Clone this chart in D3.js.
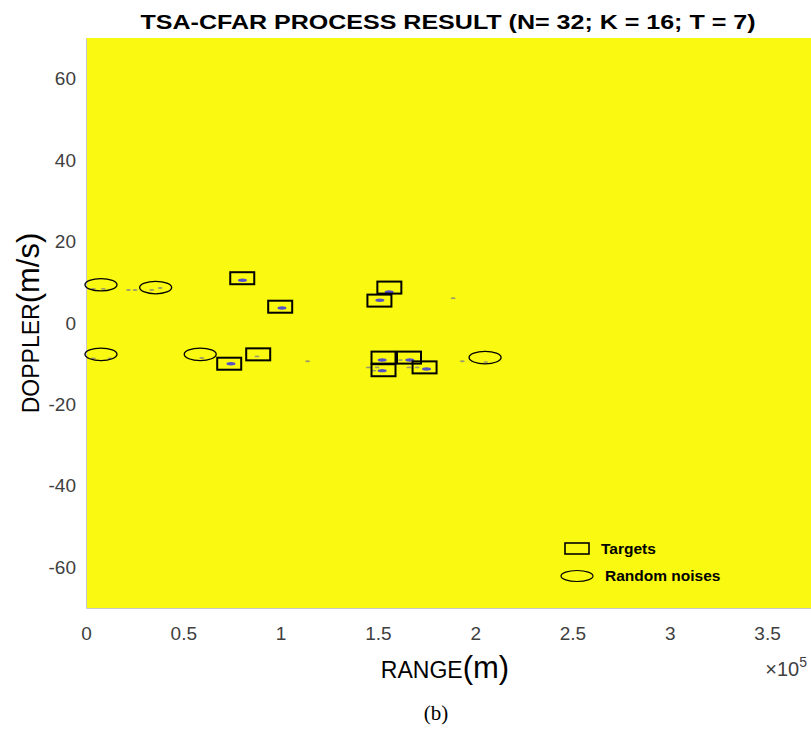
<!DOCTYPE html>
<html>
<head>
<meta charset="utf-8">
<script src="https://cdn.jsdelivr.net/npm/d3@7"></script>
<style>
  body { margin: 0; background: #fff; }
  svg { display: block; }
</style>
</head>
<body>
<div id="chart"></div>
<script>
// 数据（从图上读取，距离单位 m，多普勒单位 m/s）
const xTicks = [0, 50000, 100000, 150000, 200000, 250000, 300000, 350000];
const yTicks = [-60, -40, -20, 0, 20, 40, 60];

// 目标框中心
const targetRange   = [80300, 99800, 73600, 88500, 155900, 150800, 152900, 166000, 152900, 174000];
const targetDoppler = [11.0, 4.0, -10.0, -7.7, 8.7, 5.5, -8.5, -8.5, -11.6, -10.9];

// 随机噪声椭圆中心
const noiseRange   = [7700, 35800, 7700, 58700, 205100];
const noiseDoppler = [9.4, 8.7, -7.7, -7.7, -8.5];

// 检测点（强）
const strongRange   = [80400, 100700, 155800, 151000, 74500, 152200, 166400, 152200, 175000];
const strongDoppler = [10.5, 3.7, 7.6, 5.6, -10.0, -9.1, -9.1, -11.7, -11.3];

// 检测点（弱）
const weakRange   = [3800, 8900, 21800, 25200, 33800, 38100, 3800, 12400, 113900, 188700,
                     193400, 205400, 145100, 149600, 161600, 165900, 170200, 147900, 87900, 59500];
const weakDoppler = [8.4, 8.4, 8.1, 8.1, 8.1, 8.6, -8.7, -8.7, -9.4, 6.1,
                     -9.4, -9.6, -10.9, -10.9, -9.1, -10.9, -10.9, -11.7, -8.2, -8.6];

const width = 811;
const height = 737;
const plot = {left: 86, right: 811, top: 38, bottom: 608};
const sans = 'Liberation Sans, Arial, sans-serif';

const svg = d3.select('#chart')
  .append('svg')
  .attr('width', width)
  .attr('height', height);

const x = d3.scaleLinear()
  .domain([0, 372600])
  .range([plot.left, plot.right]);

const y = d3.scaleLinear()
  .domain([-70, 70])
  .range([plot.bottom, plot.top]);

// 背景（全黄色的检测图）
svg.append('rect')
  .attr('x', plot.left)
  .attr('y', plot.top)
  .attr('width', plot.right - plot.left)
  .attr('height', plot.bottom - plot.top)
  .attr('fill', '#f9f911');

// 坐标轴
const xAxis = svg.append('g')
  .attr('transform', `translate(0,${plot.bottom})`)
  .call(d3.axisBottom(x).tickValues(xTicks).tickSize(0).tickPadding(19)
    .tickFormat(d => String(d / 1e5)));
xAxis.select('.domain').attr('stroke', '#c8c8c8');
xAxis.selectAll('text')
  .attr('fill', '#404040')
  .style('font-family', sans)
  .style('font-size', '19px');

const yAxis = svg.append('g')
  .attr('transform', `translate(${plot.left},0)`)
  .call(d3.axisLeft(y).tickValues(yTicks).tickSize(0).tickPadding(10)
    .tickFormat(d => String(d)));
yAxis.select('.domain').attr('stroke', '#c8c8c8');
yAxis.selectAll('text')
  .attr('fill', '#404040')
  .style('font-family', sans)
  .style('font-size', '19px');

// 检测点
svg.selectAll('.weak')
  .data(weakRange.map((r, i) => [r, weakDoppler[i]]))
  .enter()
  .append('ellipse')
  .attr('class', 'weak')
  .attr('cx', d => x(d[0]))
  .attr('cy', d => y(d[1]))
  .attr('rx', 2.5)
  .attr('ry', 0.9)
  .attr('fill', '#a09c6a');

svg.selectAll('.strong')
  .data(strongRange.map((r, i) => [r, strongDoppler[i]]))
  .enter()
  .append('ellipse')
  .attr('class', 'strong')
  .attr('cx', d => x(d[0]))
  .attr('cy', d => y(d[1]))
  .attr('rx', 4.5)
  .attr('ry', 1.7)
  .attr('fill', '#5650c8');

// 目标框
svg.selectAll('.target')
  .data(targetRange.map((r, i) => [r, targetDoppler[i]]))
  .enter()
  .append('rect')
  .attr('class', 'target')
  .attr('x', d => x(d[0]) - 12)
  .attr('y', d => y(d[1]) - 6)
  .attr('width', 24)
  .attr('height', 12)
  .attr('fill', 'none')
  .attr('stroke', '#000')
  .attr('stroke-width', 2);

// 噪声椭圆
svg.selectAll('.noise')
  .data(noiseRange.map((r, i) => [r, noiseDoppler[i]]))
  .enter()
  .append('ellipse')
  .attr('class', 'noise')
  .attr('cx', d => x(d[0]))
  .attr('cy', d => y(d[1]))
  .attr('rx', 16)
  .attr('ry', 6.2)
  .attr('fill', 'none')
  .attr('stroke', '#000')
  .attr('stroke-width', 1.3);

// 图例
const legend = svg.append('g')
  .style('font-family', sans)
  .style('font-size', '15.5px')
  .style('font-weight', 'bold');
legend.append('rect')
  .attr('x', 565).attr('y', 543).attr('width', 24).attr('height', 11)
  .attr('fill', 'none').attr('stroke', '#000').attr('stroke-width', 1.6);
legend.append('text').attr('x', 601).attr('y', 554).text('Targets');
legend.append('ellipse')
  .attr('cx', 577).attr('cy', 576).attr('rx', 16).attr('ry', 5.5)
  .attr('fill', 'none').attr('stroke', '#000').attr('stroke-width', 1.2);
legend.append('text').attr('x', 605).attr('y', 581).text('Random noises');

// 标题
svg.append('text')
  .attr('x', 448)
  .attr('y', 29)
  .attr('text-anchor', 'middle')
  .attr('textLength', 615)
  .attr('lengthAdjust', 'spacingAndGlyphs')
  .style('font-family', sans)
  .style('font-size', '21px')
  .style('font-weight', 'bold')
  .text('TSA-CFAR PROCESS RESULT (N= 32; K = 16; T = 7)');

// 轴标题
const xLabel = svg.append('text')
  .attr('x', 445)
  .attr('y', 678)
  .attr('text-anchor', 'middle')
  .style('font-family', sans)
  .attr('fill', '#000');
xLabel.append('tspan').style('font-size', '23px').text('RANGE');
xLabel.append('tspan').style('font-size', '31px').text('(m)');

const yLabel = svg.append('text')
  .attr('transform', 'translate(39,323) rotate(-90)')
  .attr('text-anchor', 'middle')
  .style('font-family', sans)
  .attr('fill', '#000');
yLabel.append('tspan').style('font-size', '23px').text('DOPPLER');
yLabel.append('tspan').style('font-size', '31px').text('(m/s)');

// ×10^5
const expo = svg.append('text')
  .attr('x', 807)
  .attr('y', 676)
  .attr('text-anchor', 'end')
  .attr('fill', '#404040')
  .style('font-family', sans)
  .style('font-size', '20px');
expo.append('tspan').text('\u00d710');
expo.append('tspan').attr('dy', -9).style('font-size', '14px').text('5');

// 图注
svg.append('text')
  .attr('x', 436)
  .attr('y', 720)
  .attr('text-anchor', 'middle')
  .style('font-family', 'Liberation Serif, Times New Roman, serif')
  .style('font-size', '21px')
  .text('(b)');
</script>
</body>
</html>
